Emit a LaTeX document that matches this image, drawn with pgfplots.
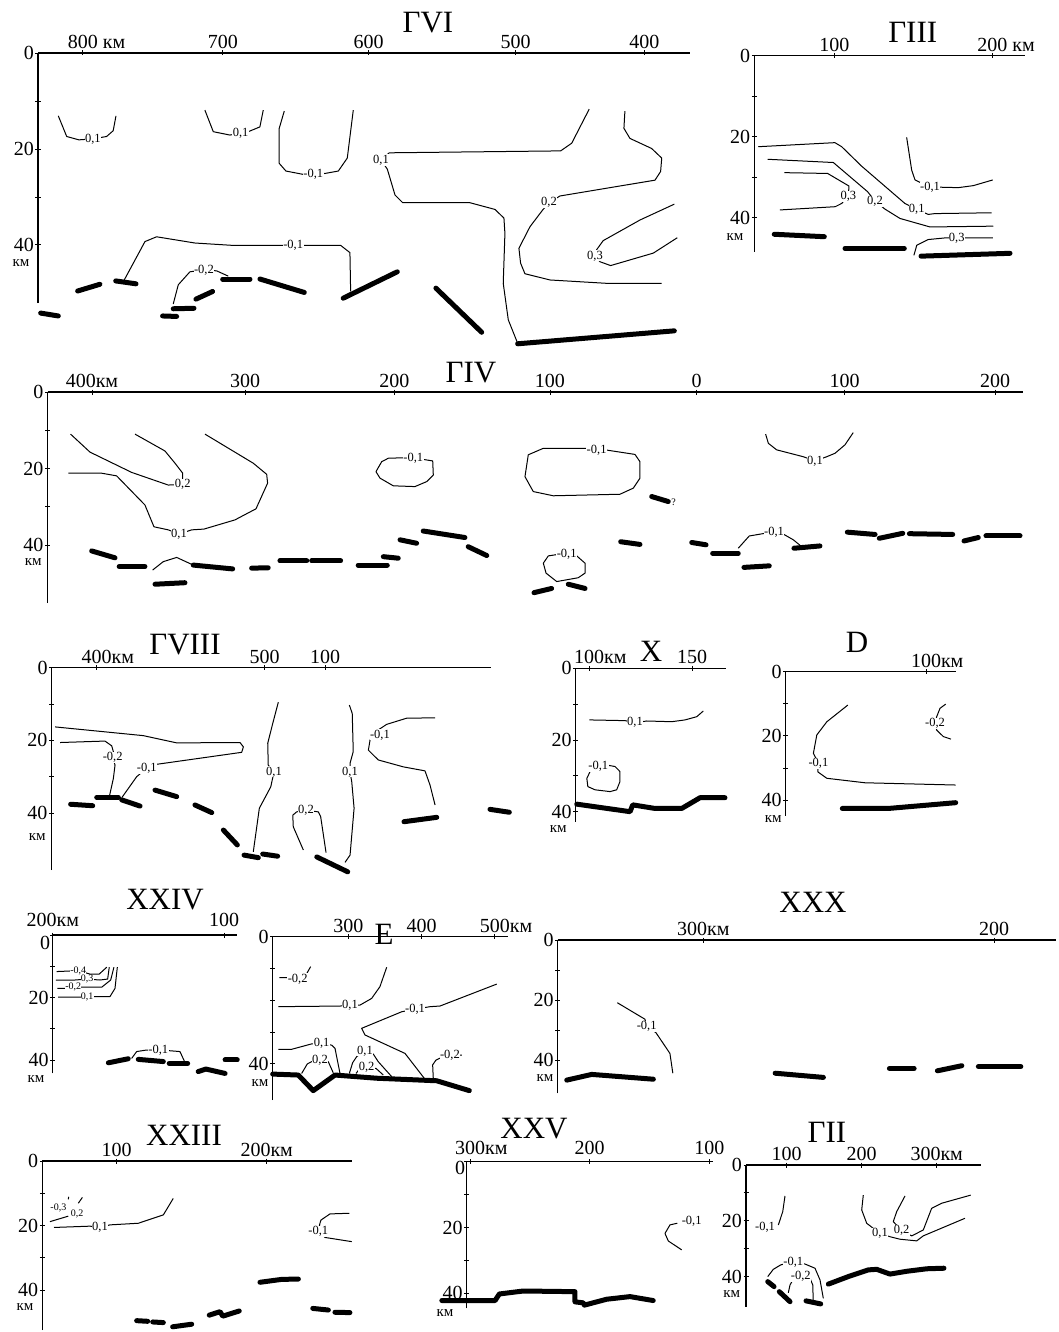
\documentclass[border=0pt]{standalone}
\usepackage{pgfplots}
\pgfplotsset{compat=1.18}
\usepackage{fontspec}
\setmainfont{Liberation Serif}
\newcommand\ticklab{\fontsize{20}{20}\selectfont}
\newcommand\conlab{\fontsize{12.5}{12.5}\selectfont}
\newcommand\conlabs{\fontsize{10}{10}\selectfont}
\newcommand\ttlfont{\fontsize{31}{31}\selectfont}
\pgfplotsset{
  prof/.style={
    scale only axis, clip=false, anchor=north west,
    axis x line*=top, axis y line*=left,
    axis line style={line width=1.4pt,-},
    every tick/.style={black,line width=0.9pt},
    major tick length=5pt, tick align=center,
    ymax=0, ytick={0,-10,-20,-30,-40}, yticklabels={0,,20,,40},
    tick label style={font=\ticklab},
    xticklabel style={inner sep=1.5pt},
    yticklabel style={inner sep=1.5pt},
    scaled ticks=false,
  },
  iso/.style={black,line width=1pt,line join=round,no marks},
  moho/.style={black,line width=5pt,line cap=round,line join=round,no marks},
}
\tikzset{
  lab/.style={fill=white,inner sep=0.4pt,font=\conlab},
  labs/.style={fill=white,inner sep=0.1pt,font=\conlabs},
}
\begin{document}
\begin{tikzpicture}
\path[use as bounding box] (0pt,0pt) rectangle (1058pt,-1332pt);

% ---------------- GVI ----------------
\begin{axis}[prof, at={(38pt,-53pt)}, width=652pt, height=250pt,
  xmin=-832.1, xmax=-366.4, ymin=-52.1,
  xtick={-800,-700,-596,-491,-399}, xticklabels={{800\rlap{ км}},700,600,500,400}]
\addplot[iso] coordinates {(-817.6,-13.1)(-811.6,-17.4)(-802.9,-18.1)(-792.9,-17.9)(-783.1,-17.4)(-778.4,-16.2)(-776.4,-13.1)};
\addplot[iso] coordinates {(-712.9,-11.9)(-706.9,-16.4)(-695.0,-17.1)(-687.4,-16.7)(-681.9,-16.4)(-673.6,-15.4)(-671.2,-11.9)};
\addplot[iso] coordinates {(-656.2,-12.1)(-659.8,-15.7)(-659.8,-23.0)(-655.0,-24.6)(-642.6,-25.3)(-635.5,-25.3)(-627.1,-25.1)(-617.6,-24.6)(-611.2,-21.9)(-606.9,-11.9)};
\addplot[iso] coordinates {(-770.5,-47.3)(-755.7,-39.3)(-747.4,-38.3)(-720.0,-39.6)(-692.6,-40.1)(-656.9,-40.1)(-649.8,-40.1)(-642.6,-40.1)(-615.9,-40.1)(-609.3,-41.6)(-608.8,-49.7)};
\addplot[iso] coordinates {(-735.5,-52.3)(-731.9,-48.3)(-723.6,-45.6)(-713.6,-45.2)(-704.5,-45.4)(-696.2,-46.5)};
\addplot[iso] coordinates {(-438.4,-11.7)(-450.9,-18.8)(-458.8,-20.4)(-581.2,-20.8)(-587.1,-22.3)(-582.6,-24.2)(-577.1,-29.6)(-571.6,-31.2)(-523.6,-31.2)(-505.7,-32.6)(-499.3,-34.4)(-498.6,-37.6)(-499.8,-48.0)(-496.2,-55.6)(-489.5,-60.5)};
\addplot[iso] coordinates {(-412.9,-12.1)(-413.6,-15.7)(-409.3,-17.8)(-393.8,-19.9)(-386.6,-21.9)(-387.4,-24.7)(-391.4,-26.5)(-459.3,-29.8)(-467.1,-31.2)(-471.6,-32.7)(-480.7,-36.2)(-488.6,-40.7)(-487.4,-43.8)(-484.3,-46.0)(-466.4,-47.3)(-425.9,-48.0)(-386.6,-48.0)};
\addplot[iso] coordinates {(-377.6,-31.5)(-402.1,-34.8)(-428.4,-39.1)(-433.1,-41.0)(-434.3,-42.3)(-430.7,-43.5)(-423.1,-44.3)(-392.6,-41.7)(-375.5,-38.5)};
\addplot[moho] coordinates {(-830.2,-54.2)(-817.6,-54.8)};
\addplot[moho] coordinates {(-803.8,-49.6)(-787.9,-48.2)};
\addplot[moho] coordinates {(-776.6,-47.5)(-762.1,-48.1)};
\addplot[moho] coordinates {(-743.1,-54.8)(-733.1,-54.9)};
\addplot[moho] coordinates {(-735.5,-53.3)(-720.7,-53.2)};
\addplot[moho] coordinates {(-719.3,-51.3)(-707.4,-49.7)};
\addplot[moho] coordinates {(-700.2,-47.1)(-680.7,-47.1)};
\addplot[moho] coordinates {(-673.6,-47.1)(-641.9,-49.9)};
\addplot[moho] coordinates {(-614.1,-51.1)(-575.5,-45.6)};
\addplot[moho] coordinates {(-547.9,-49.0)(-515.2,-58.2)};
\addplot[moho] coordinates {(-489.5,-60.6)(-377.6,-57.9)};
\node[lab] at (axis cs:-792.9,-17.9) {0,1};
\node[lab] at (axis cs:-687.4,-16.7) {0,1};
\node[lab] at (axis cs:-635.5,-25.3) {-0,1};
\node[lab] at (axis cs:-649.8,-40.1) {-0,1};
\node[lab] at (axis cs:-713.6,-45.2) {-0,2};
\node[lab] at (axis cs:-587.1,-22.3) {0,1};
\node[lab] at (axis cs:-467.1,-31.2) {0,2};
\node[lab] at (axis cs:-434.3,-42.3) {0,3};
\end{axis}

% ---------------- GIII ----------------
\begin{axis}[prof, at={(754.3pt,-55.5pt)}, width=270.7pt, height=196.2pt,
  xmin=49.4, xmax=220.7, ymin=-48.4,
  xtick={100,200}, xticklabels={100,{200\rlap{ км}}}]
\addplot[iso] coordinates {(51.9,-22.5)(100.4,-21.5)(104.7,-22.5)(117.3,-27.3)(144.7,-36.5)(152.2,-38.0)(159.5,-39.2)(163.7,-39.0)(199.6,-38.8)};
\addplot[iso] coordinates {(57.8,-25.6)(99.4,-26.4)(121.1,-33.6)(125.8,-35.9)(132.1,-37.9)(141.6,-40.2)(160.6,-42.3)(200.6,-42.1)};
\addplot[iso] coordinates {(68.4,-28.9)(95.8,-29.1)(109.3,-32.2)(108.9,-34.7)(104.7,-36.5)(100.6,-37.3)(65.6,-38.1)};
\addplot[iso] coordinates {(145.8,-20.2)(149.0,-28.3)(151.1,-30.7)(160.6,-32.5)(168.0,-32.5)(178.5,-32.6)(188.0,-32.1)(200.3,-30.7)};
\addplot[iso] coordinates {(150.4,-49.3)(152.2,-46.8)(159.5,-45.4)(170.1,-45.0)(177.5,-45.0)(200.3,-45.0)};
\addplot[moho] coordinates {(62.0,-44.1)(93.7,-44.7)};
\addplot[moho] coordinates {(106.8,-47.6)(144.3,-47.6)};
\addplot[moho] coordinates {(154.9,-49.5)(211.2,-48.8)};
\node[lab] at (axis cs:152.2,-38.0) {0,1};
\node[lab] at (axis cs:125.8,-35.9) {0,2};
\node[lab] at (axis cs:108.9,-34.7) {0,3};
\node[lab] at (axis cs:160.6,-32.5) {-0,1};
\node[lab] at (axis cs:177.5,-45.0) {0,3};
\end{axis}

% ---------------- GIV ----------------
\begin{axis}[prof, at={(47.7pt,-392pt)}, width=975pt, height=211pt,
  xmin=-429.4, xmax=218.4, ymin=-55.1,
  xtick={-400,-298.3,-199.1,-95.7,1.8,100,200}, xticklabels={400км,300,200,100,0,100,200}]
\addplot[iso] coordinates {(-414.2,-11.0)(-401.3,-15.7)(-373.6,-21.0)(-349.3,-24.3)(-339.7,-24.1)(-339.7,-21.2)(-344.8,-18.6)(-351.5,-15.4)(-371.4,-11.0)};
\addplot[iso] coordinates {(-415.7,-21.2)(-393.6,-21.2)(-383.6,-21.9)(-364.8,-29.5)(-358.8,-35.2)(-349.3,-36.0)(-342.2,-37.1)(-333.8,-36.0)(-325.6,-35.8)(-305.0,-33.4)(-291.0,-30.5)(-283.3,-23.8)(-283.9,-21.5)(-292.8,-18.6)(-324.9,-11.0)};
\addplot[iso] coordinates {(-186.5,-17.2)(-179.9,-17.6)(-173.6,-18.0)(-173.2,-21.7)(-177.6,-23.4)(-185.4,-24.7)(-199.8,-24.5)(-208.6,-22.5)(-211.3,-20.8)(-207.5,-18.2)(-203.1,-17.3)(-195.3,-17.2)(-186.5,-17.2)};
\addplot[iso] coordinates {(-359.7,-46.5)(-352.6,-44.3)(-343.7,-43.2)(-332.7,-45.2)};
\addplot[iso] coordinates {(-64.7,-15.1)(-59.1,-15.1)(-39.2,-16.3)(-35.9,-18.2)(-35.9,-22.5)(-40.3,-25.1)(-49.2,-26.7)(-93.5,-27.1)(-106.8,-26.0)(-112.3,-22.1)(-110.1,-16.4)(-100.1,-14.7)(-71.3,-14.7)(-64.7,-15.1)};
\addplot[iso] coordinates {(-84.6,-42.3)(-77.9,-42.8)(-72.4,-44.7)(-72.4,-47.3)(-76.9,-48.5)(-91.2,-49.5)(-98.3,-47.3)(-100.1,-44.7)(-96.8,-42.8)(-90.2,-42.4)(-84.6,-42.3)};
\addplot[iso] coordinates {(29.4,-40.8)(36.7,-37.6)(47.2,-36.9)(53.2,-36.7)(59.3,-37.1)(66.0,-38.6)(71.6,-40.4)};
\addplot[iso] coordinates {(47.6,-11.0)(49.4,-13.4)(54.9,-15.1)(72.6,-16.9)(80.4,-18.0)(88.2,-16.9)(93.7,-16.0)(100.3,-13.8)(105.8,-10.6)};
\addplot[moho] coordinates {(-400.2,-41.5)(-384.7,-43.3)};
\addplot[moho] coordinates {(-381.9,-45.6)(-364.8,-45.6)};
\addplot[moho] coordinates {(-358.1,-50.2)(-338.2,-49.8)};
\addplot[moho] coordinates {(-332.7,-45.2)(-306.5,-46.2)};
\addplot[moho] coordinates {(-293.9,-46.0)(-282.9,-45.9)};
\addplot[moho] coordinates {(-275.1,-44.1)(-257.3,-44.1)};
\addplot[moho] coordinates {(-254.0,-44.1)(-234.8,-44.1)};
\addplot[moho] coordinates {(-223.1,-45.2)(-203.8,-45.2)};
\addplot[moho] coordinates {(-206.4,-43.0)(-196.5,-43.4)};
\addplot[moho] coordinates {(-195.3,-38.6)(-184.3,-39.5)};
\addplot[moho] coordinates {(-179.9,-36.3)(-152.2,-38.0)};
\addplot[moho] coordinates {(-150.0,-40.4)(-137.7,-42.7)};
\addplot[moho] coordinates {(-106.3,-52.4)(-94.6,-51.3)};
\addplot[moho] coordinates {(-83.5,-50.2)(-72.4,-51.3)};
\addplot[moho] coordinates {(-28.1,-27.3)(-17.1,-28.6)};
\addplot[moho] coordinates {(-48.7,-39.1)(-35.9,-39.8)};
\addplot[moho] coordinates {(-1.5,-39.3)(8.0,-39.9)};
\addplot[moho] coordinates {(12.4,-42.1)(29.4,-42.1)};
\addplot[moho] coordinates {(66.4,-40.8)(83.7,-40.2)};
\addplot[moho] coordinates {(33.2,-45.8)(50.0,-45.4)};
\addplot[moho] coordinates {(101.9,-36.6)(120.3,-37.2)};
\addplot[moho] coordinates {(123.1,-38.2)(138.7,-36.9)};
\addplot[moho] coordinates {(143.1,-37.0)(171.9,-37.2)};
\addplot[moho] coordinates {(179.4,-38.9)(188.9,-38.0)};
\addplot[moho] coordinates {(194.0,-37.6)(216.6,-37.6)};
\node[lab] at (axis cs:-339.7,-24.1) {0,2};
\node[lab] at (axis cs:-342.2,-37.1) {0,1};
\node[lab] at (axis cs:-186.5,-17.2) {-0,1};
\node[lab] at (axis cs:-64.7,-15.1) {-0,1};
\node[lab] at (axis cs:-84.6,-42.3) {-0,1};
\node[lab] at (axis cs:53.2,-36.7) {-0,1};
\node[lab] at (axis cs:80.4,-18.0) {0,1};
\node[font=\conlabs,anchor=west,inner sep=0.5pt] at (axis cs:-15.5,-28.8) {?};
\end{axis}

% ---------------- GVIII ----------------
\begin{axis}[prof, at={(51.7pt,-667.7pt)}, width=439.3pt, height=202.3pt,
  xmin=373.2, xmax=634.7, ymin=-55.7,
  xtick={400,500,535.9}, xticklabels={{400\rlap{км}},500,100}]
\addplot[iso] coordinates {(375.2,-16.3)(427.7,-18.7)(447.6,-20.7)(485.3,-20.6)(487.3,-21.8)(486.3,-23.3)(435.7,-26.6)(429.8,-27.7)(423.8,-30.0)(414.9,-35.8)};
\addplot[iso] coordinates {(378.2,-20.6)(404.9,-20.2)(408.9,-21.5)(409.9,-23.1)(409.5,-24.8)(410.9,-26.8)(409.9,-30.5)(407.5,-35.5)};
\addplot[iso] coordinates {(508.1,-9.5)(504.8,-15.3)(501.8,-20.8)(502.1,-26.8)(505.5,-28.7)(503.6,-32.8)(496.8,-38.7)(493.2,-50.7)};
\addplot[iso] coordinates {(550.4,-10.3)(552.1,-12.6)(552.7,-23.1)(550.8,-26.3)(550.8,-28.7)(551.8,-31.4)(553.2,-38.7)(550.8,-51.6)(547.8,-53.6)};
\addplot[iso] coordinates {(523.0,-50.2)(517.0,-43.8)(516.7,-40.6)(519.0,-39.7)(524.6,-39.2)(531.9,-39.7)(533.3,-41.0)(536.5,-50.9)};
\addplot[iso] coordinates {(601.4,-13.8)(584.5,-13.9)(572.6,-15.6)(565.7,-17.7)(562.7,-19.9)(561.7,-22.7)(567.6,-25.4)(582.5,-27.3)(595.4,-28.4)(598.4,-32.3)(601.4,-37.8)};
\addplot[moho] coordinates {(384.5,-37.6)(397.6,-38.0)};
\addplot[moho] coordinates {(400.0,-35.7)(412.9,-35.7)};
\addplot[moho] coordinates {(414.9,-36.4)(425.8,-38.1)};
\addplot[moho] coordinates {(434.7,-33.7)(447.6,-35.5)};
\addplot[moho] coordinates {(458.5,-37.8)(468.5,-39.9)};
\addplot[moho] coordinates {(475.4,-44.7)(483.7,-48.8)};
\addplot[moho] coordinates {(487.7,-51.6)(496.2,-52.3)};
\addplot[moho] coordinates {(498.8,-51.3)(507.7,-51.9)};
\addplot[moho] coordinates {(531.0,-52.1)(549.4,-56.2)};
\addplot[moho] coordinates {(582.9,-42.4)(602.4,-41.2)};
\addplot[moho] coordinates {(634.1,-39.0)(645.6,-39.8)};
\node[lab] at (axis cs:429.8,-27.7) {-0,1};
\node[lab] at (axis cs:409.5,-24.8) {-0,2};
\node[lab] at (axis cs:505.5,-28.7) {0,1};
\node[lab] at (axis cs:550.8,-28.7) {0,1};
\node[lab] at (axis cs:524.6,-39.2) {0,2};
\node[lab] at (axis cs:568.6,-18.5) {-0,1};
\end{axis}

% ---------------- X ----------------
\begin{axis}[prof, at={(575.7pt,-668.3pt)}, width=150.3pt, height=153.4pt,
  xmin=93.5, xmax=166.5, ymin=-42.8,
  xtick={100,150}, xticklabels={{100\rlap{км}},150}]
\addplot[iso] coordinates {(100.1,-14.4)(117.5,-14.6)(122.3,-15.2)(128.0,-14.7)(140.1,-14.9)(146.6,-14.4)(152.3,-13.5)(155.5,-11.9)};
\addplot[iso] coordinates {(108.6,-27.0)(112.6,-27.4)(115.0,-28.8)(115.0,-31.6)(113.4,-33.9)(110.2,-34.4)(102.9,-33.9)(99.4,-33.0)(98.9,-30.7)(100.5,-28.8)};
\addplot[moho] coordinates {(94.0,-37.9)(119.9,-40.0)(121.2,-38.1)(132.0,-39.1)(145.0,-39.1)(153.9,-36.1)(166.0,-36.1)};
\node[lab] at (axis cs:122.3,-15.2) {0,1};
\node[lab] at (axis cs:104.5,-27.4) {-0,1};
\end{axis}

% ---------------- D ----------------
\begin{axis}[prof, at={(785.7pt,-671.7pt)}, width=170pt, height=144pt,
  xmin=29.85, xmax=114.85, ymin=-44.86,
  xtick={100}, xticklabels={{100\rlap{км}}}]
\addplot[iso] coordinates {(60.9,-10.4)(50.4,-15.6)(45.4,-19.7)(43.7,-25.4)(46.2,-28.5)(45.9,-31.2)(50.4,-33.2)(69.5,-34.6)(114.85,-35.3)};
\addplot[iso] coordinates {(109.85,-10.1)(107.0,-11.4)(105.35,-14.0)(104.5,-16.1)(105.35,-18.2)(108.65,-20.2)(112.5,-21.0)};
\addplot[moho] coordinates {(58.15,-42.6)(81.15,-42.6)(114.85,-40.8)};
\node[lab] at (axis cs:46.2,-28.5) {-0,1};
\node[lab] at (axis cs:104.5,-16.1) {-0,2};
\end{axis}

% ---------------- XXIV ----------------
\begin{axis}[prof, at={(52.7pt,-935pt)}, width=184.6pt, height=138.3pt,
  xmin=-195.7, xmax=-92.57, ymin=-44.26,
  yticklabels={,,20,,40},
  xtick={-195.6,-100}, xticklabels={200км,100}, xticklabel style={yshift=4pt}]
\addplot[iso] coordinates {(-193.5,-11.7)(-181.4,-11.4)(-174.9,-12.5)(-169.7,-12.5)(-165.5,-10.3)};
\addplot[iso] coordinates {(-193.9,-14.4)(-183.2,-14.4)(-176.4,-14.1)(-169.3,-14.4)(-165.0,-14.1)(-164.1,-10.3)};
\addplot[iso] coordinates {(-193.1,-17.1)(-188.8,-17.1)(-184.2,-16.5)(-178.6,-16.7)(-168.3,-16.7)(-163.3,-14.4)(-161.5,-10.3)};
\addplot[iso] coordinates {(-192.6,-19.9)(-181.4,-19.9)(-176.4,-19.7)(-171.1,-19.7)(-163.7,-19.7)(-160.9,-17.1)(-159.6,-10.3)};
\addplot[iso] coordinates {(-151.6,-39.5)(-148.8,-37.3)(-143.2,-36.8)(-136.7,-36.8)(-131.1,-37.0)(-124.6,-37.3)(-122.2,-40.3)};
\addplot[moho] coordinates {(-164.6,-40.9)(-153.5,-39.6)};
\addplot[moho] coordinates {(-147.9,-39.8)(-133.9,-40.5)};
\addplot[moho] coordinates {(-130.6,-41.1)(-120.3,-41.1)};
\addplot[moho] coordinates {(-114.4,-43.7)(-110.1,-42.9)(-99.4,-44.3)};
\addplot[moho] coordinates {(-99.4,-40.0)(-92.6,-40.0)};
\node[labs] at (axis cs:-181.4,-11.4) {-0,4};
\node[labs] at (axis cs:-176.4,-14.1) {0,3};
\node[labs] at (axis cs:-184.2,-16.5) {-0,2};
\node[labs] at (axis cs:-176.4,-19.7) {0,1};
\node[lab] at (axis cs:-136.7,-36.8) {-0,1};
\end{axis}

% ---------------- E ----------------
\begin{axis}[prof, at={(272.7pt,-936.7pt)}, width=235.6pt, height=163.3pt,
  xmin=196.9, xmax=518.3, ymin=-51.35, yticklabels={0,,,,40},
  xtick={300,400,500}, xticklabels={300,400,{500\rlap{км}}}]
\addplot[iso] coordinates {(205.9,-12.9)(216.0,-12.9)(231.0,-13.3)(242.3,-12.0)(248.7,-9.4)};
\addplot[iso] coordinates {(204.5,-22.0)(288.7,-21.8)(302.3,-21.6)(316.0,-21.5)(331.9,-19.4)(343.2,-15.7)(352.4,-9.6)};
\addplot[iso] coordinates {(502.5,-14.9)(425.1,-21.8)(411.5,-22.0)(391.0,-22.8)(372.9,-23.6)(318.3,-28.8)(322.8,-30.9)(377.4,-36.7)(404.6,-44.8)};
\addplot[iso] coordinates {(204.5,-35.4)(222.8,-35.4)(250.1,-33.7)(263.7,-33.5)(277.4,-34.1)(281.9,-35.1)(288.7,-43.0)};
\addplot[iso] coordinates {(236.4,-43.0)(244.1,-40.0)(250.1,-39.3)(261.4,-38.8)(272.7,-39.3)(279.5,-42.8)};
\addplot[iso] coordinates {(301.4,-43.0)(306.0,-39.6)(311.5,-37.7)(322.8,-35.9)(334.1,-36.9)(340.9,-39.3)(359.2,-44.0)};
\addplot[iso] coordinates {(310.5,-43.0)(315.0,-41.7)(325.1,-41.1)(337.8,-41.4)(347.8,-43.5)};
\addplot[iso] coordinates {(416.0,-44.8)(415.1,-40.3)(419.6,-38.8)(425.1,-38.2)(438.7,-37.2)(455.1,-37.2)};
\addplot[moho] coordinates {(196.9,-43.2)(231.8,-43.5)(252.2,-48.4)(281.9,-43.5)(338.7,-44.5)(420.6,-45.3)(465.1,-48.4)};
\node[lab] at (axis cs:231.0,-13.3) {-0,2};
\node[lab] at (axis cs:302.3,-21.6) {0,1};
\node[lab] at (axis cs:391.0,-22.8) {-0,1};
\node[lab] at (axis cs:263.7,-33.5) {0,1};
\node[lab] at (axis cs:261.4,-38.8) {0,2};
\node[lab] at (axis cs:322.8,-35.9) {0,1};
\node[lab] at (axis cs:325.1,-41.1) {0,2};
\node[lab] at (axis cs:438.7,-37.2) {-0,2};
\end{axis}

% ---------------- XXX ----------------
\begin{axis}[prof, at={(557.7pt,-940pt)}, width=498.3pt, height=153.3pt,
  xmin=-350.1, xmax=-178.7, ymin=-51.1,
  xtick={-300,-200}, xticklabels={300км,200}]
\addplot[iso] coordinates {(-329.6,-20.9)(-320.1,-26.4)(-319.5,-28.7)(-316.3,-30.9)(-311.5,-37.8)(-310.5,-44.4)};
\addplot[moho] coordinates {(-347.0,-46.7)(-338.4,-44.8)(-317.2,-46.4)};
\addplot[moho] coordinates {(-275.3,-44.4)(-258.7,-45.8)};
\addplot[moho] coordinates {(-236.0,-42.8)(-227.5,-42.8)};
\addplot[moho] coordinates {(-219.5,-43.6)(-211.1,-41.9)};
\addplot[moho] coordinates {(-205.4,-42.2)(-190.8,-42.2)};
\node[lab] at (axis cs:-319.5,-28.7) {-0,1};
\end{axis}

% ---------------- XXIII ----------------
\begin{axis}[prof, at={(42.3pt,-1161pt)}, width=309.4pt, height=169pt,
  xmin=50.4, xmax=256.67, ymin=-52.4,
  xtick={100,200}, xticklabels={100,200км}]
\addplot[iso] coordinates {(55.5,-18.8)(67.7,-17.1)};
\addplot[iso] coordinates {(74.4,-13.1)(77.1,-11.3)};
\addplot[iso] coordinates {(67.7,-11.9)(68.0,-11.1)};
\addplot[iso] coordinates {(58.2,-20.6)(82.2,-20.2)(88.9,-20.6)(95.5,-19.8)(114.4,-19.3)(131.1,-16.7)(137.7,-11.6)};
\addplot[iso] coordinates {(255.1,-16.2)(242.2,-16.4)(236.2,-18.3)(235.5,-19.3)(234.4,-21.9)(238.9,-23.7)(256.7,-25.0)};
\addplot[moho] coordinates {(113.3,-49.5)(120.7,-49.7)};
\addplot[moho] coordinates {(124.0,-49.9)(131.1,-50.1)};
\addplot[moho] coordinates {(137.3,-51.4)(150.0,-50.6)};
\addplot[moho] coordinates {(161.7,-47.8)(168.9,-46.7)(170.7,-48.1)(175.5,-47.4)(181.7,-46.5)};
\addplot[moho] coordinates {(195.5,-37.6)(210.0,-36.7)(221.1,-36.6)};
\addplot[moho] coordinates {(230.7,-45.7)(241.1,-46.2)};
\addplot[moho] coordinates {(245.5,-46.9)(255.5,-47.0)};
\node[labs] at (axis cs:61.1,-14.5) {-0,3};
\node[labs] at (axis cs:73.7,-16.4) {0,2};
\node[lab] at (axis cs:88.9,-20.6) {0,1};
\node[lab] at (axis cs:234.4,-21.9) {-0,1};
\end{axis}

% ---------------- XXV ----------------
\begin{axis}[prof, at={(466.7pt,-1161.7pt)}, width=246.6pt, height=146.6pt,
  xmin=-302.8, xmax=-96.7, ymin=-44.56,
  yticklabels={,,20,,40},
  xtick={-300,-200,-100}, xticklabels={{300\rlap{км}},200,100}, xticklabel style={yshift=3pt}]
\addplot[iso] coordinates {(-123.1,-26.8)(-134.3,-24.1)(-137.1,-21.8)(-132.9,-19.2)(-126.8,-18.7)};
\addplot[moho] coordinates {(-323.6,-42.2)(-279.1,-42.2)(-275.5,-40.2)(-255.5,-39.3)(-212.3,-39.5)(-212.3,-42.6)(-205.3,-42.9)(-204.5,-43.6)(-185.8,-41.8)(-166.3,-41.0)(-146.9,-42.2)};
\node[lab] at (axis cs:-114.8,-18.2) {-0,1};
\end{axis}

% ---------------- GII ----------------
\begin{axis}[prof, at={(746pt,-1165pt)}, width=234.7pt, height=141.7pt,
  xmin=45.7, xmax=358.7, ymin=-50.8,
  xtick={100,200,300}, xticklabels={100,200,300км}]
\addplot[iso] coordinates {(88.8,-21.5)(94.7,-16.7)(97.7,-11.1)};
\addplot[iso] coordinates {(202.1,-10.8)(200.0,-16.1)(206.7,-20.9)(215.5,-22.7)(224.4,-24.5)(237.7,-25.7)(251.1,-26.6)(273.3,-27.2)(282.1,-25.4)(337.7,-19.1)};
\addplot[iso] coordinates {(257.7,-11.1)(246.7,-16.7)(242.1,-20.3)(253.3,-23.5)(266.7,-25.4)(282.1,-23.3)(293.3,-15.5)(306.7,-13.7)(345.3,-10.8)};
\addplot[iso] coordinates {(74.7,-40.0)(82.1,-37.4)(92.0,-35.8)(108.8,-34.7)(124.4,-35.5)(137.7,-37.0)(144.4,-41.2)(148.8,-47.8)};
\addplot[iso] coordinates {(102.1,-45.8)(104.4,-43.0)(108.8,-40.9)(118.7,-40.0)(131.1,-40.6)(134.7,-43.0)(135.5,-49.6)};
\addplot[moho] coordinates {(74.7,-41.8)(83.1,-43.6)};
\addplot[moho] coordinates {(90.1,-45.4)(104.4,-49.0)};
\addplot[moho] coordinates {(125.7,-48.7)(145.3,-49.8)};
\addplot[moho] coordinates {(155.5,-42.7)(182.1,-40.0)(208.8,-37.6)(220.0,-37.4)(237.7,-39.1)(260.0,-38.1)(286.7,-37.2)(309.7,-37.0)};
\node[lab] at (axis cs:71.1,-22.3) {-0,1};
\node[lab] at (axis cs:224.4,-24.5) {0,1};
\node[lab] at (axis cs:253.3,-23.5) {0,2};
\node[lab] at (axis cs:108.8,-34.7) {-0,1};
\node[lab] at (axis cs:118.7,-40.0) {-0,2};
\end{axis}

% ---------------- corner zero labels (XXIV, XXV) ----------------
\node[font=\ticklab,inner sep=0pt] at (45pt,-943pt) {0};
\node[font=\ticklab,inner sep=0pt] at (460pt,-1168pt) {0};

% ---------------- km labels ----------------
\foreach \x/\y in {21/263, 735/237, 33.3/562, 37.3/837.5, 558.3/829, 773.3/819, 36/1079, 260/1083, 545/1078, 25/1307, 445/1313, 731.7/1294}
  \node[font=\fontsize{15}{15}\selectfont,inner sep=0pt] at (\x pt,-\y pt) {км};

% ---------------- titles ----------------
\node[font=\ttlfont,inner sep=0pt] at (428pt,-22.7pt) {ГVI};
\node[font=\ttlfont,inner sep=0pt] at (912.7pt,-32.7pt) {ГIII};
\node[font=\ttlfont,inner sep=0pt] at (471pt,-372.5pt) {ГIV};
\node[font=\ttlfont,inner sep=0pt] at (185pt,-645pt) {ГVIII};
\node[font=\ttlfont,inner sep=0pt] at (651pt,-651pt) {X};
\node[font=\ttlfont,inner sep=0pt] at (857pt,-642pt) {D};
\node[font=\ttlfont,inner sep=0pt] at (165pt,-900pt) {XXIV};
\node[font=\ttlfont,inner sep=0pt] at (384pt,-934pt) {E};
\node[font=\ttlfont,inner sep=0pt] at (813pt,-902pt) {XXX};
\node[font=\ttlfont,inner sep=0pt] at (184pt,-1135pt) {XXIII};
\node[font=\ttlfont,inner sep=0pt] at (534pt,-1129pt) {XXV};
\node[font=\ttlfont,inner sep=0pt] at (827pt,-1132pt) {ГII};
\end{tikzpicture}
\end{document}
